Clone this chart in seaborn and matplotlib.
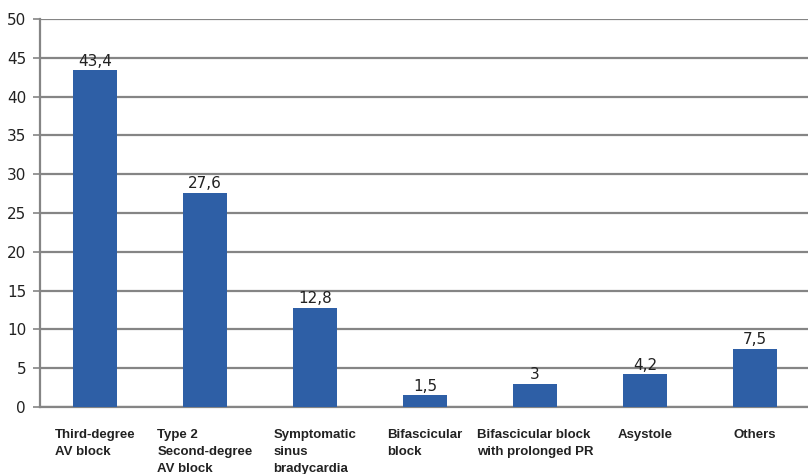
import matplotlib
matplotlib.use("Agg")
import matplotlib.pyplot as plt
import seaborn as sns
import pandas as pd
from matplotlib.ticker import FixedLocator

categories = ["Third-degree\nAV block", "Type 2\nSecond-degree\nAV block",
              "Symptomatic\nsinus\nbradycardia", "Bifascicular\nblock",
              "Bifascicular block\nwith prolonged PR", "Asystole", "Others"]
values = [43.4, 27.6, 12.8, 1.5, 3, 4.2, 7.5]
value_labels = ["43,4", "27,6", "12,8", "1,5", "3", "4,2", "7,5"]
yticks = [0, 5, 10, 15, 20, 25, 30, 35, 40, 45, 50]

sns.set_style("white")
narrow = ["DejaVu Sans"]
boldf = ["Liberation Sans", "DejaVu Sans"]

df = pd.DataFrame({"cat": categories, "val": values})

fig = plt.figure(figsize=(8.08, 4.74), dpi=100)
ax = fig.add_axes([40/808, 1-407/474, 770/808, (407-19)/474])
sns.barplot(data=df, x="cat", y="val", color="#2E5FA6", width=0.4,
            saturation=1, linewidth=0, ax=ax, zorder=3)
ax.set_xlim(-0.5, len(categories) - 0.5)
ax.set_ylim(0, 50)
ax.set_yticks(yticks)
ax.set_yticklabels([str(t) for t in yticks], family=narrow, fontsize=11, color="#222222")
ax.yaxis.grid(True, color="#858585", linewidth=1.6, zorder=0)
ax.set_axisbelow(True)
ax.tick_params(axis="y", length=5, width=1.2, color="#858585", direction="out", pad=5, left=True)
ax.set_xticks(range(len(categories)))
ax.set_xticklabels(categories, fontsize=9.5, fontweight="bold", family=boldf,
                   multialignment="left", va="top", color="#222222", linespacing=1.55)
ax.tick_params(axis="x", length=0, pad=16)
ax.xaxis.set_minor_locator(FixedLocator([i + 0.5 for i in range(len(categories) - 1)]))
ax.tick_params(axis="x", which="minor", length=6, width=1.2, color="#858585", direction="out")
for s in ["top", "right"]:
    ax.spines[s].set_visible(False)
for s in ["left", "bottom"]:
    ax.spines[s].set_color("#858585")
    ax.spines[s].set_linewidth(1.6)
ax.set_xlabel("")
ax.set_ylabel("")
for c in ax.containers:
    ax.bar_label(c, labels=value_labels, padding=1, family=narrow, fontsize=11, color="#222222")

fig.savefig("out.png", dpi=100)
